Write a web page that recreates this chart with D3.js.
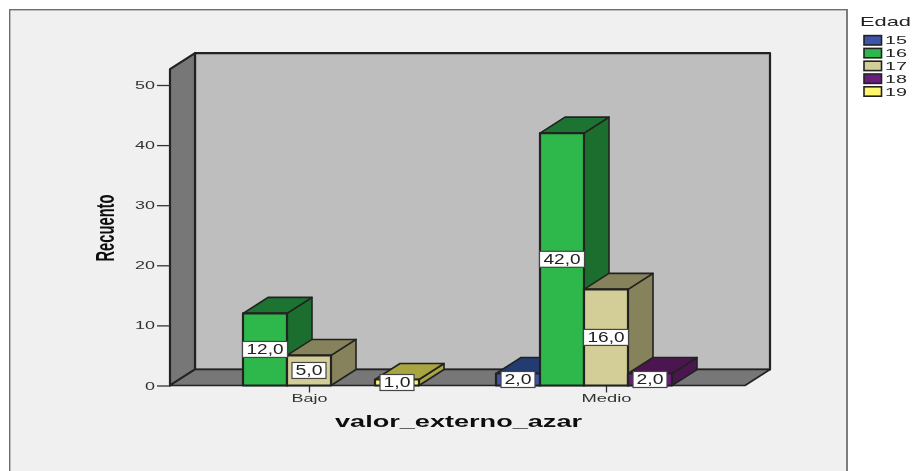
<!DOCTYPE html>
<html><head><meta charset="utf-8">
<script src="https://cdnjs.cloudflare.com/ajax/libs/d3/7.8.5/d3.min.js"></script>
<style>html,body{margin:0;padding:0;background:#fff}svg{display:block}text{font-family:"Liberation Sans",Arial,sans-serif}</style>
</head><body><svg id="c" width="912" height="471"></svg>
<script>
const categories = ["Bajo", "Medio"];
const ages = ["15", "16", "17", "18", "19"];
const bajoValues = [0, 12, 5, 0, 1];
const medioValues = [2, 42, 16, 2, 0];
const yTicks = [0, 10, 20, 30, 40, 50];
const frontColors = ["#3b57a8", "#2db84b", "#d3ce97", "#6c1f7d", "#fff66e"];
const sideColors = ["#2a3f7a", "#1c6e2f", "#86825c", "#4c1850", "#a9a540"];
const topColors = ["#233a70", "#1e7331", "#86825c", "#4c1850", "#a9a540"];
const seriesByCategory = [bajoValues, medioValues];

const svg = d3.select("#c");
const y = d3.scaleLinear().domain([0, 50]).range([385.5, 85]);
const x = d3.scalePoint().domain(categories).range([309, 606]);
const s = d3.scaleBand().domain(ages).range([-110, 110]);
const dx = 25, dy = -16, wallTop = y(52.65), left = 170, right = 745, base = y(0);
const ink = "#222";

const defs = svg.append("defs");
defs.append("filter").attr("id", "soft").attr("x", 0).attr("y", 0).attr("width", "100%").attr("height", "100%")
  .append("feGaussianBlur").attr("stdDeviation", 0.4);
const g = svg.append("g").attr("filter", "url(#soft)");

function poly(pts, fill, sw = 1.6) {
  g.append("polygon").attr("points", pts.map(p => p.join(",")).join(" "))
    .attr("fill", fill).attr("stroke", ink).attr("stroke-width", sw).attr("stroke-linejoin", "round");
}
function label(t, px, py, w, o = {}) {
  const el = g.append("text").text(t).attr("x", px).attr("y", py)
    .attr("text-anchor", o.anchor || "middle").attr("font-size", o.size || 11)
    .attr("font-weight", o.weight || "normal").attr("fill", o.fill || "#333")
    .attr("textLength", w).attr("lengthAdjust", "spacingAndGlyphs");
  if (o.rotate) el.attr("transform", `rotate(-90 ${px} ${py})`);
  return el;
}

// frame
g.append("rect").attr("x", 9.5).attr("y", 9.5).attr("width", 837.5).attr("height", 480)
  .attr("fill", "#f0f0f0").attr("stroke", "#6e6e6e").attr("stroke-width", 1.8);

// walls
poly([[left + dx, wallTop + dy], [right + dx, wallTop + dy], [right + dx, base + dy], [left + dx, base + dy]], "#bebebe", 2.2);
poly([[left, wallTop], [left + dx, wallTop + dy], [left + dx, base + dy], [left, base]], "#777777", 2.2);
poly([[left, base], [left + dx, base + dy], [right + dx, base + dy], [right, base]], "#777777", 1.6);

// axes
const yAxis = d3.axisLeft(y).tickValues(yTicks).tickSize(13).tickPadding(2);
const ya = g.append("g").attr("transform", `translate(${left},0)`).call(yAxis);
ya.select(".domain").remove();
ya.selectAll("line").attr("stroke", "#333").attr("stroke-width", 1.3);
ya.selectAll("text").attr("font-size", 11).attr("fill", "#333")
  .attr("font-family", '"Liberation Sans",Arial,sans-serif')
  .attr("textLength", 20).attr("lengthAdjust", "spacingAndGlyphs");
ya.selectAll(".tick").filter(d => d === 0).select("text").attr("textLength", 10);

const xAxis = d3.axisBottom(x).tickSize(7).tickPadding(2);
const xa = g.append("g").attr("transform", `translate(0,${base})`).call(xAxis);
xa.select(".domain").remove();
xa.selectAll("line").attr("stroke", "#333").attr("stroke-width", 1.3);
xa.selectAll("text").attr("font-size", 11).attr("fill", "#333")
  .attr("font-family", '"Liberation Sans",Arial,sans-serif')
  .attr("textLength", d => d === "Bajo" ? 36 : 50).attr("lengthAdjust", "spacingAndGlyphs");

// bars
const labels = [];
categories.forEach((c, ci) => {
  seriesByCategory[ci].forEach((v, i) => {
    if (!v) return;
    const x0 = x(c) + s(ages[i]), x1 = x0 + s.bandwidth(), yt = y(v);
    poly([[x1, yt], [x1 + dx, yt + dy], [x1 + dx, base + dy], [x1, base]], sideColors[i]);
    poly([[x0, yt], [x0 + dx, yt + dy], [x1 + dx, yt + dy], [x1, yt]], topColors[i]);
    poly([[x0, yt], [x1, yt], [x1, base], [x0, base]], frontColors[i], 2.2);
    labels.push({ v, cx: (x0 + x1) / 2, cy: (yt + base) / 2 });
  });
});
// value labels
labels.forEach(d => {
  const t = d3.format(".1f")(d.v).replace(".", ",");
  const tw = t.length === 4 ? 37 : 27, bw = t.length === 4 ? 45 : 34;
  g.append("rect").attr("x", d.cx - bw / 2).attr("y", d.cy - 8).attr("width", bw).attr("height", 16)
    .attr("fill", "#fff").attr("stroke", "#444").attr("stroke-width", 1.2);
  label(t, d.cx, d.cy + 5, tw, { size: 14, fill: "#222" });
});

// titles
label("valor_externo_azar", 458.5, 427, 247, { size: 16, weight: "bold", fill: "#111" });
label("Recuento", 114, 228, 67, { size: 25, weight: "bold", fill: "#111", rotate: true });

// legend
label("Edad", 860, 26, 51, { anchor: "start", size: 13, fill: "#222" });
ages.forEach((a, i) => {
  const ly = 40.3 + i * 12.8;
  g.append("rect").attr("x", 864).attr("y", ly - 4.7).attr("width", 17.5).attr("height", 9.4)
    .attr("fill", frontColors[i]).attr("stroke", ink).attr("stroke-width", 1.6);
  label(a, 885, ly + 4, 22, { anchor: "start", size: 11, fill: "#222" });
});
</script></body></html>
